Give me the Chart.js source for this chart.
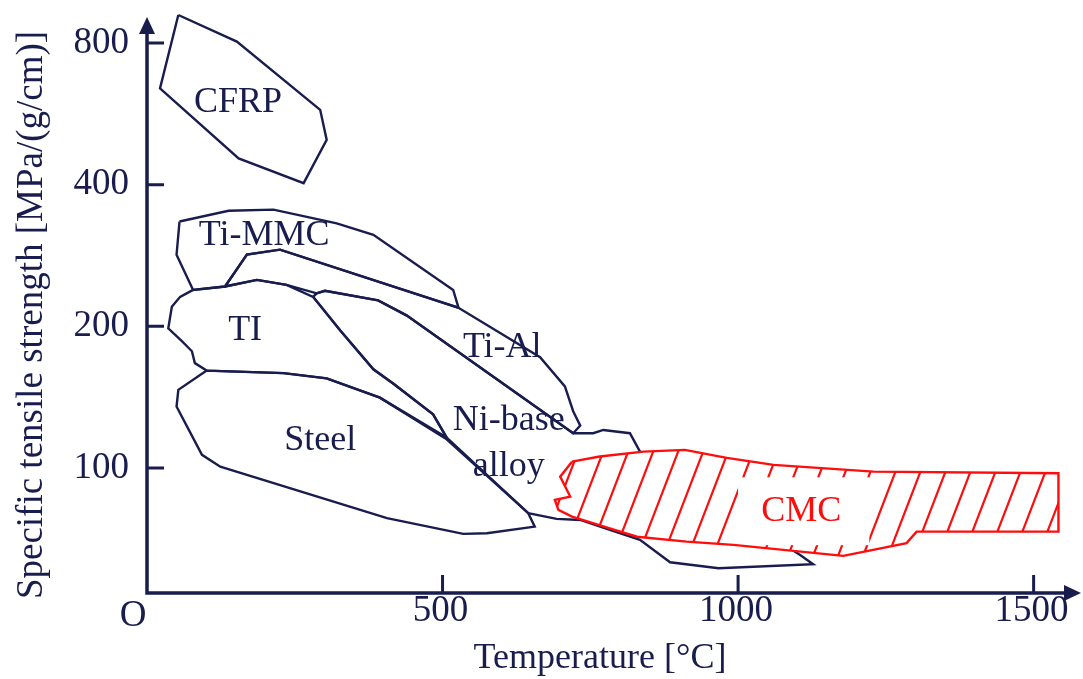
<!DOCTYPE html>
<html>
<head>
<meta charset="utf-8">
<script src="https://cdn.jsdelivr.net/npm/chart.js@4.4.1/dist/chart.umd.min.js"></script>
<style>
  html, body { margin: 0; padding: 0; background: #fff; }
  #wrap { width: 1083px; height: 679px; position: relative; }
</style>
</head>
<body>
<div id="wrap"><canvas id="chart"></canvas></div>
<script>
// outlines of each material region: temperature [°C] / specific strength
const cfrpTemp = [53, 152, 293, 304, 265, 155, 22];
const cfrpStrength = [918, 806, 577, 498, 403, 455, 641];

const timmcTemp = [55, 138, 214, 321, 383, 518, 527, 225, 169, 132, 78, 50];
const timmcStrength = [334, 352, 354, 331, 313, 239, 219, 291, 284, 243, 239, 284];

const tiTemp = [78, 132, 186, 236, 281, 327, 383, 417, 484, 507, 394, 304, 231, 101, 81, 76, 59, 36, 42, 56];
const tiStrength = [239, 243, 251, 245, 231, 196, 162, 151, 130, 116, 141, 155, 159, 161, 167, 177, 186, 198, 220, 231];

const tialTemp = [132, 169, 225, 527, 665, 707, 721, 733, 721, 439, 391, 301, 287, 236, 186];
const tialStrength = [243, 284, 291, 219, 172, 149, 132, 123, 118.5, 211, 227, 238, 235, 245, 251];

const nibaseTemp = [281, 327, 383, 417, 484, 507, 645, 693, 733, 783, 834, 885, 967, 1127, 1105, 834, 817, 772, 755, 721, 439, 391, 301, 287];
const nibaseStrength = [231, 196, 162, 151, 130, 116, 80.1, 77.9, 77.5, 73.8, 70.3, 63, 61.2, 62.4, 65.3, 108.3, 118.5, 120.4, 118.5, 118.5, 211, 227, 238, 235];

const steelTemp = [101, 231, 304, 394, 507, 645, 656, 575, 535, 406, 124, 93, 50, 53];
const steelStrength = [161, 159, 155, 141, 115, 80.1, 75, 72.6, 72.4, 78.2, 100.6, 106.6, 135, 146.5];

const cmcTemp = [719, 766, 840, 910, 981, 1060, 1229, 1542, 1542, 1302, 1285, 1178, 992, 913, 829, 783, 719, 696, 690, 716, 699];
const cmcStrength = [103.1, 105.7, 108.3, 109.2, 105, 101.5, 98.2, 97.4, 73.2, 73.2, 69.2, 65, 68.6, 69.7, 71.4, 74.4, 78.8, 81.4, 85.5, 86.9, 95.8];

// region names and where they sit
const labelNames = ['CFRP', 'Ti-MMC', 'TI', 'Ti-Al', 'Ni-base', 'alloy', 'Steel', 'CMC'];
const labelTemp = [154, 198, 166, 601, 612, 612, 293, 1107];
const labelStrength = [597, 312, 196, 180, 126, 100.6, 114.4, 80.8];

const xTicks = [500, 1000, 1500];
const yTicks = [100, 200, 400, 800];

const navy = '#191d4e';
const red = '#ff0d0d';
const serif = "'Liberation Serif', 'DejaVu Serif', serif";

function outline(temps, strengths) {
    const pts = temps.map((t, i) => ({ x: t, y: strengths[i] }));
    pts.push(pts[0]); // close the shape
    return pts;
}

function region(label, temps, strengths, color, order) {
    return {
        label: label,
        data: outline(temps, strengths),
        showLine: true,
        borderColor: color,
        borderWidth: 2.4,
        pointRadius: 0,
        fill: false,
        tension: 0,
        order: order
    };
}

const datasets = [
    region('CFRP', cfrpTemp, cfrpStrength, navy, 0),
    region('Ti-MMC', timmcTemp, timmcStrength, navy, 0),
    region('TI', tiTemp, tiStrength, navy, 0),
    region('Ti-Al', tialTemp, tialStrength, navy, 0),
    region('Ni-base alloy', nibaseTemp, nibaseStrength, navy, 0),
    region('Steel', steelTemp, steelStrength, navy, 0),
    region('CMC', cmcTemp, cmcStrength, red, -1)   // drawn last, on top
];
const cmcIndex = datasets.length - 1;

// white fill + red hatching inside the CMC outline, with a clear patch for its label
const cmcHatch = {
    id: 'cmcHatch',
    beforeDatasetDraw(chart, args) {
        if (args.index !== cmcIndex) return;
        const ctx = chart.ctx;
        const x = chart.scales.x, y = chart.scales.y;
        const pts = args.meta.data;
        ctx.save();
        ctx.beginPath();
        pts.forEach((p, i) => i ? ctx.lineTo(p.x, p.y) : ctx.moveTo(p.x, p.y));
        ctx.closePath();
        ctx.fillStyle = '#fff';
        ctx.fill();
        ctx.clip();

        ctx.strokeStyle = red;
        ctx.lineWidth = 2.2;
        const slope = 2.6;
        const ax = x.getPixelForValue(1519), ay = y.getPixelForValue(97.4);
        const step = x.getPixelForValue(42.3) - x.getPixelForValue(0);
        const yTop = y.getPixelForValue(120), yBot = y.getPixelForValue(58);
        ctx.beginPath();
        for (let k = -45; k <= 3; k++) {
            const x0 = ax + k * step;
            ctx.moveTo(x0 + (ay - yBot) / slope, yBot);
            ctx.lineTo(x0 + (ay - yTop) / slope, yTop);
        }
        ctx.stroke();

        const gx0 = x.getPixelForValue(1000), gx1 = x.getPixelForValue(1222);
        const gy0 = y.getPixelForValue(95.5), gy1 = y.getPixelForValue(68.5);
        ctx.fillStyle = '#fff';
        ctx.fillRect(gx0, gy0, gx1 - gx0, gy1 - gy0);
        ctx.restore();
    }
};

const regionLabels = {
    id: 'regionLabels',
    afterDatasetsDraw(chart) {
        const ctx = chart.ctx;
        const x = chart.scales.x, y = chart.scales.y;
        ctx.save();
        ctx.font = '36px ' + serif;
        ctx.textAlign = 'center';
        ctx.textBaseline = 'middle';
        labelNames.forEach((name, i) => {
            ctx.fillStyle = name === 'CMC' ? red : navy;
            ctx.fillText(name, x.getPixelForValue(labelTemp[i]), y.getPixelForValue(labelStrength[i]));
        });
        ctx.restore();
    }
};

// axes with arrow heads, inward ticks and titles
const arrowAxes = {
    id: 'arrowAxes',
    afterDraw(chart) {
        const ctx = chart.ctx;
        const x = chart.scales.x, y = chart.scales.y;
        const { left, right, top, bottom } = chart.chartArea;
        ctx.save();
        ctx.strokeStyle = navy;
        ctx.fillStyle = navy;
        ctx.lineWidth = 3.5;
        ctx.beginPath();
        ctx.moveTo(left, bottom + 1.75);
        ctx.lineTo(left, top + 20);
        ctx.moveTo(left, bottom);
        ctx.lineTo(right - 6, bottom);
        ctx.stroke();

        ctx.beginPath();
        ctx.moveTo(left, top + 9);
        ctx.lineTo(left - 8, top + 26);
        ctx.lineTo(left + 8, top + 26);
        ctx.closePath();
        ctx.fill();
        ctx.beginPath();
        ctx.moveTo(right + 6, bottom);
        ctx.lineTo(right - 11, bottom - 8);
        ctx.lineTo(right - 11, bottom + 8);
        ctx.closePath();
        ctx.fill();

        ctx.lineWidth = 3;
        ctx.beginPath();
        yTicks.forEach(v => {
            const py = y.getPixelForValue(v);
            ctx.moveTo(left, py);
            ctx.lineTo(left + 17, py);
        });
        xTicks.forEach(v => {
            const px = x.getPixelForValue(v);
            ctx.moveTo(px, bottom);
            ctx.lineTo(px, bottom - 18);
        });
        ctx.stroke();

        ctx.font = '37px ' + serif;
        ctx.textBaseline = 'middle';
        ctx.textAlign = 'right';
        yTicks.forEach(v => ctx.fillText(String(v), left - 18, y.getPixelForValue(v)));
        ctx.textAlign = 'center';
        xTicks.forEach(v => ctx.fillText(String(v), x.getPixelForValue(v) - 2, bottom + 18));
        ctx.fillText('O', left - 14, bottom + 23);

        ctx.font = '36px ' + serif;
        ctx.fillText('Temperature [°C]', 600, bottom + 66);

        ctx.save();
        ctx.translate(32, 315);
        ctx.rotate(-Math.PI / 2);
        ctx.font = '37px ' + serif;
        ctx.fillText('Specific tensile strength [MPa/(g/cm)]', 0, 0);
        ctx.restore();
        ctx.restore();
    }
};

new Chart(document.getElementById('chart'), {
    type: 'scatter',
    data: { datasets: datasets },
    options: {
        responsive: true,
        maintainAspectRatio: false,
        animation: false,
        layout: { padding: { left: 147, right: 8, top: 8, bottom: 86 } },
        scales: {
            x: { type: 'linear', min: 0, max: 1570, display: false },
            y: { type: 'logarithmic', min: 54.2, max: 950, display: false }
        },
        plugins: {
            legend: { display: false },
            tooltip: { enabled: false }
        }
    },
    plugins: [cmcHatch, regionLabels, arrowAxes]
});
</script>
</body>
</html>
